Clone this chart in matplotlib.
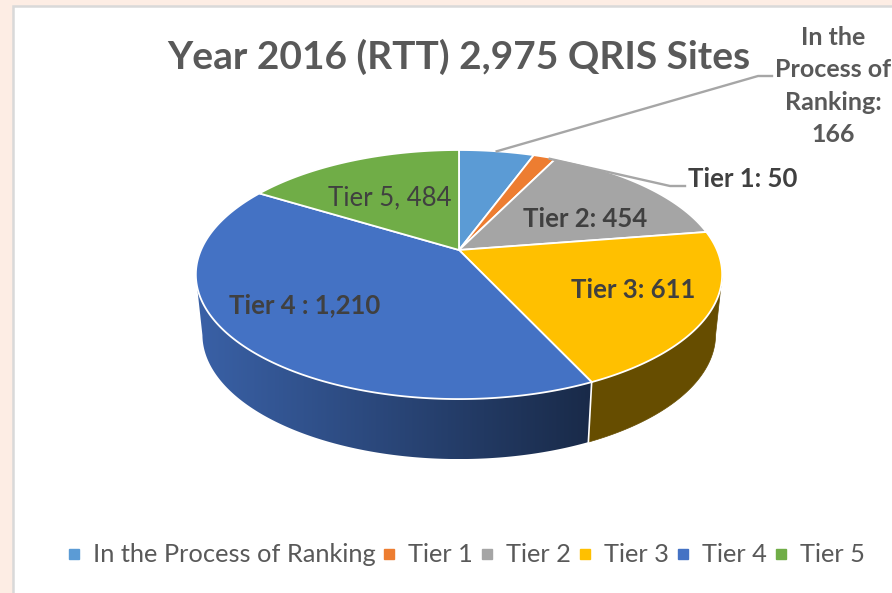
import numpy as np
import matplotlib
matplotlib.use("Agg")
import matplotlib.pyplot as plt
from matplotlib.colors import to_rgb
from matplotlib.lines import Line2D
from matplotlib.patches import Rectangle

plt.rcParams['font.family'] = ['Lato', 'DejaVu Sans']

# Chart data
categories = ["In the Process of Ranking", "Tier 1", "Tier 2", "Tier 3", "Tier 4", "Tier 5"]
sites = [166, 50, 454, 611, 1210, 484]
colors = ['#5B9BD5', '#ED7D31', '#A5A5A5', '#FFC000', '#4472C4', '#70AD47']
title = "Year 2016 (RTT) 2,975 QRIS Sites"

# Pie geometry in pixels
cx, cy = 459, 250
radius = 258
tilt = 119.7
persp = 0.197
depth = 60
silhouette = -0.2  # cos(angle) at the widest point of the rim
grey = '#595959'
dark = '#404040'


def project(angle):
    # angle is degrees clockwise from 12 o'clock, result is a screen position
    u = np.sin(np.radians(angle))
    v = np.cos(np.radians(angle))
    w = 1 + persp * v
    return cx + radius * u / w, cy - tilt * v / w


def project_low(angle):
    x, y = project(angle)
    return cx + (x - cx) * 0.975, y + depth


fig = plt.figure(figsize=(8.92, 5.93), dpi=100, facecolor='#FDEDE4')
ax = fig.add_axes([0, 0, 1, 1])
ax.set_xlim(0, 892)
ax.set_ylim(593, 0)
ax.axis('off')
ax.add_patch(Rectangle((12.5, 5.5), 900, 600, facecolor='white', edgecolor='#D9D9D9', linewidth=1.8))

edges = np.concatenate([[0], np.cumsum(sites)]) / sum(sites) * 360

# Side wall first, the top covers whatever is behind it
for i in range(len(sites)):
    angles = np.linspace(edges[i], edges[i + 1], 300)
    angles = angles[np.cos(np.radians(angles)) < silhouette]
    if len(angles) < 2:
        continue
    tx, ty = project(angles)
    bx, by = project_low(angles)
    px = np.r_[tx, bx[::-1]]
    py = np.r_[ty, by[::-1]]
    base = np.array(to_rgb(colors[i]))
    if categories[i] == "Tier 4":
        # Blue wall gets darker to the right
        outline = ax.fill(px, py, facecolor='none', edgecolor='none')[0]
        ramp = np.linspace(0.85, 0.37, 256)[None, :, None] * base
        img = ax.imshow(ramp, extent=(px.min(), px.max(), py.max(), py.min()), aspect='auto', zorder=1.5)
        img.set_clip_path(outline)
    else:
        ax.fill(px, py, color=tuple(base * 0.4), linewidth=0.5, zorder=1.5)
ax.set_xlim(0, 892)
ax.set_ylim(593, 0)

# White seam at the front edge between Tier 3 and Tier 4
sx, sy = project(edges[4])
lx, ly = project_low(edges[4])
ax.plot([sx, lx], [sy, ly], color='white', lw=1.2, zorder=1.6)

# Top face
for i in range(len(sites)):
    angles = np.linspace(edges[i], edges[i + 1], 200)
    px, py = project(angles)
    ax.fill(np.r_[cx, px], np.r_[cy, py], facecolor=colors[i], edgecolor='white', linewidth=1.3,
            joinstyle='round', zorder=2)

# Leader lines start on the rim at the middle of their slices
mid0 = (edges[0] + edges[1]) / 2
mid1 = (edges[1] + edges[2]) / 2
x0, y0 = project(mid0)
ax.plot([x0, 758, 772], [y0, 76, 76], color='#A6A6A6', lw=1.7, zorder=3)
x1, y1 = project(mid1)
ax.plot([x1 + 5, 670, 685], [y1 + 2, 186, 186], color='#A6A6A6', lw=1.7, zorder=3)

ax.text(459, 57, title, ha='center', va='center', fontsize=28, fontweight='bold', color=grey, zorder=4)

ax.text(833, 86, "In the\nProcess of\nRanking:\n166", ha='center', va='center', fontsize=18,
        fontweight='bold', color=grey, linespacing=1.5, zorder=4)
ax.text(743, 179, "Tier 1: 50", ha='center', va='center', fontsize=18.5, fontweight='bold', color=dark, zorder=4)
ax.text(585, 219, "Tier 2: 454", ha='center', va='center', fontsize=18.5, fontweight='bold', color=dark, zorder=4)
ax.text(633, 290, "Tier 3: 611", ha='center', va='center', fontsize=18.5, fontweight='bold', color=dark, zorder=4)
ax.text(305, 305, "Tier 4 : 1,210", ha='center', va='center', fontsize=18.5, fontweight='bold', color=dark, zorder=4)
ax.text(390, 198, "Tier 5, 484", ha='center', va='center', fontsize=18.5, color=dark, zorder=4)

handles = [Line2D([], [], linestyle='none', marker='s', markersize=6.5, color=c) for c in colors]
ax.legend(handles, categories, loc='center', bbox_to_anchor=(466 / 892, 1 - 555 / 593), ncol=6,
          frameon=False, fontsize=18.3, labelcolor=grey, handlelength=0.5, handletextpad=0.5,
          columnspacing=0.3, borderpad=0)

fig.savefig('out.png', dpi=100, facecolor=fig.get_facecolor())
